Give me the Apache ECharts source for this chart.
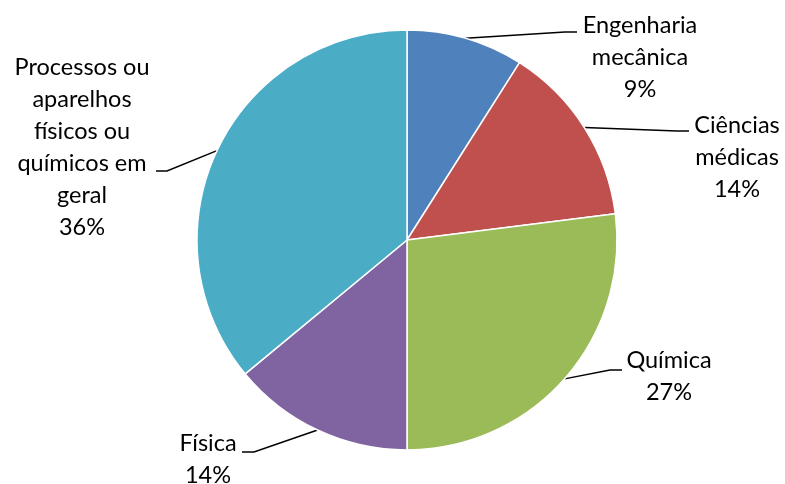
<!DOCTYPE html>
<html>
<head>
<meta charset="utf-8">
<script src="https://cdn.jsdelivr.net/npm/echarts@6/dist/echarts.min.js"></script>
<style>
  html, body { margin: 0; padding: 0; background: #fff; }
  #chart { width: 785px; height: 484px; }
</style>
</head>
<body>
<div id="chart"></div>
<script>
  // dados
  let categories = ['Engenharia\nmecânica', 'Ciências\nmédicas', 'Química', 'Física', 'Processos ou\naparelhos\nfísicos ou\nquímicos em\ngeral']
  let values = [9, 14, 27, 14, 36]
  let colors = ['#4f81bd', '#c0504d', '#9bbb59', '#8064a2', '#4bacc6']

  // posição (centro) de cada rótulo, como no gráfico do Excel
  let labelPos = [[640, 57], [737, 157], [669, 376], [208, 459], [82, 147]]
  // linha de chamada: dobra e ponta junto ao texto
  let lineBend = [[565, 32], [677, 131], [610, 370], [254, 452], [167, 171]]
  let lineEnd = [[577, 32], [689, 131], [622, 370], [242, 452], [156, 171]]

  let myChart = echarts.init(document.getElementById('chart'))
  let option = {
    animation: false,
    color: colors,
    series: [
      {
        type: 'pie',
        center: [407, 240],
        radius: 210,
        startAngle: 90,
        clockwise: true,
        itemStyle: {
          borderColor: '#fff',
          borderWidth: 1.5
        },
        label: {
          show: true,
          formatter: '{b}\n{c}%',
          fontFamily: 'Lato',
          fontSize: 23.5,
          lineHeight: 32,
          color: '#000',
          align: 'center'
        },
        labelLine: {
          show: true,
          length: 10,
          length2: 10,
          lineStyle: {
            color: '#000',
            width: 1.5
          }
        },
        labelLayout: function (params) {
          let i = params.dataIndex
          let p = labelPos[i]
          let res = {
            x: p[0],
            y: p[1],
            align: 'center',
            verticalAlign: 'middle'
          }
          if (params.labelLinePoints) {
            res.labelLinePoints = [params.labelLinePoints[0], lineBend[i], lineEnd[i]]
          }
          return res
        },
        data: categories.map(function (name, i) {
          return { name: name, value: values[i] }
        })
      }
    ]
  }
  myChart.setOption(option)
</script>
</body>
</html>
